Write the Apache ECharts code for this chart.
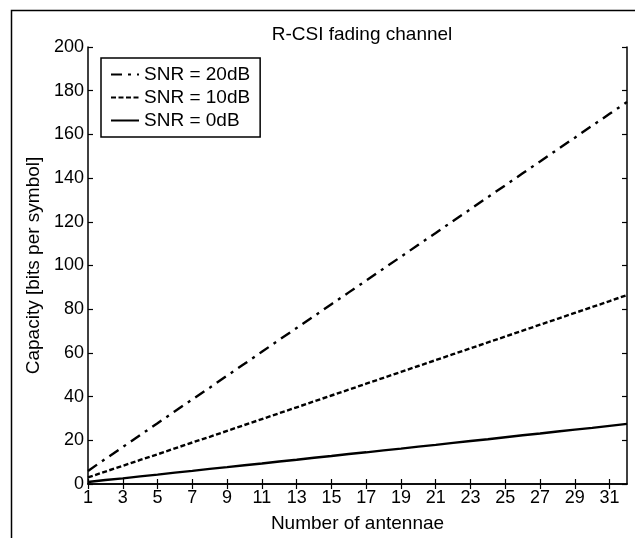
<!DOCTYPE html>
<html>
<head>
<meta charset="utf-8">
<script src="https://cdn.jsdelivr.net/npm/echarts@6/dist/echarts.min.js"></script>
<style>
  html, body { margin: 0; padding: 0; background: #fff; }
  #chart { width: 635px; height: 538px; }
</style>
</head>
<body>
<div id="chart"></div>
<script>
// antenna counts 1..32
const antennas = [];
for (let n = 1; n <= 32; n++) antennas.push(String(n));

// capacity (bits per symbol)
const snr20 = [6.0, 11.5, 16.9, 22.4, 27.8, 33.3, 38.7, 44.1, 49.6, 55.0, 60.5, 66.0, 71.4, 76.8, 82.3, 87.7,
  93.1, 98.6, 104.0, 109.5, 114.9, 120.4, 125.8, 131.3, 136.7, 142.2, 147.6, 153.1, 158.5, 164.0, 169.4, 174.8];
const snr10 = [3.0, 5.7, 8.3, 11.0, 13.6, 16.3, 19.0, 21.6, 24.3, 27.0, 29.7, 32.4, 35.1, 37.8, 40.5, 43.2,
  45.9, 48.6, 51.3, 54.0, 56.7, 59.4, 62.1, 64.8, 67.5, 70.2, 72.9, 75.6, 78.3, 81.0, 83.7, 86.5];
const snr0 = [0.9, 1.8, 2.6, 3.5, 4.3, 5.2, 6.0, 6.9, 7.7, 8.6, 9.4, 10.3, 11.1, 12.0, 12.8, 13.7,
  14.5, 15.4, 16.2, 17.1, 17.9, 18.8, 19.7, 20.5, 21.4, 22.3, 23.1, 24.0, 24.9, 25.7, 26.6, 27.5];

const seriesNames = ["SNR = 20dB", "SNR = 10dB", "SNR = 0dB"];
const font = "Liberation Sans, Arial, sans-serif";

const chart = echarts.init(document.getElementById("chart"));

const axisLine = { show: true, lineStyle: { color: "#000", width: 1.5 } };
const tick = { show: true, inside: true, length: 5, lineStyle: { color: "#000", width: 1.2 } };

const option = {
  animation: false,
  title: {
    text: "R-CSI fading channel",
    left: 357,
    top: 20,
    textAlign: "center",
    textStyle: { fontFamily: font, fontSize: 19, fontWeight: "normal", color: "#000" },
  },
  grid: { left: 88, right: 8, top: 47, bottom: 54 },
  legend: {
    orient: "vertical",
    left: 101,
    top: 58,
    padding: [7, 10, 7, 9],
    itemGap: 4,
    itemWidth: 28,
    itemHeight: 14,
    borderColor: "#000",
    borderWidth: 1.5,
    backgroundColor: "#fff",
    data: seriesNames,
    itemStyle: { opacity: 0 },
    textStyle: { fontFamily: font, fontSize: 19, lineHeight: 19, color: "#000" },
  },
  xAxis: [
    {
      type: "category",
      data: antennas,
      boundaryGap: false,
      name: "Number of antennae",
      nameLocation: "middle",
      nameGap: 30,
      nameTextStyle: { fontFamily: font, fontSize: 19, color: "#000" },
      axisLine: axisLine,
      axisTick: Object.assign({ interval: 1 }, tick),
      axisLabel: { interval: 1, color: "#000", fontFamily: font, fontSize: 18, margin: 5 },
      splitLine: { show: false },
    },
    {
      type: "category",
      data: antennas,
      boundaryGap: false,
      position: "top",
      axisLine: axisLine,
      axisTick: Object.assign({ interval: 1 }, tick),
      axisLabel: { show: false },
      splitLine: { show: false },
    },
  ],
  yAxis: [
    {
      type: "value",
      min: 0,
      max: 200,
      interval: 20,
      name: "Capacity [bits per symbol]",
      nameLocation: "middle",
      nameGap: 34,
      nameTextStyle: { fontFamily: font, fontSize: 19, color: "#000" },
      axisLine: axisLine,
      axisTick: tick,
      axisLabel: { color: "#000", fontFamily: font, fontSize: 18, margin: 4 },
      splitLine: { show: false },
    },
    {
      type: "value",
      min: 0,
      max: 200,
      interval: 20,
      position: "right",
      axisLine: axisLine,
      axisTick: tick,
      axisLabel: { show: false },
      splitLine: { show: false },
    },
  ],
  series: [
    {
      name: seriesNames[0],
      type: "line",
      data: snr20,
      symbol: "none",
      lineStyle: { color: "#000", width: 2.4, type: [11, 6, 3, 6] },
      itemStyle: { color: "#000" },
    },
    {
      name: seriesNames[1],
      type: "line",
      data: snr10,
      symbol: "none",
      lineStyle: { color: "#000", width: 2.4, type: [5, 2.5] },
      itemStyle: { color: "#000" },
    },
    {
      name: seriesNames[2],
      type: "line",
      data: snr0,
      symbol: "none",
      lineStyle: { color: "#000", width: 2.4 },
      itemStyle: { color: "#000" },
    },
  ],
  graphic: [
    {
      type: "rect",
      left: 9,
      top: 8,
      shape: { width: 640, height: 545 },
      style: { fill: "none", stroke: "#000", lineWidth: 1.5 },
      silent: true,
    },
  ],
};

chart.setOption(option);
</script>
</body>
</html>
